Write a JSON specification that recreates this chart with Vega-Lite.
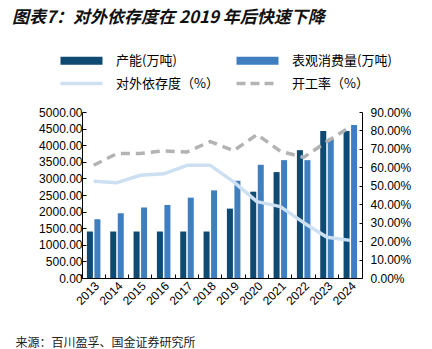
{
  "$schema": "https://vega.github.io/schema/vega-lite/v6.json",
  "width": 280,
  "height": 166,
  "autosize": {"type": "none"},
  "padding": {"left": 82, "top": 112, "right": 70, "bottom": 71},
  "background": "white",
  "title": {
    "text": "图表7：对外依存度在 2019 年后快速下降",
    "anchor": "start",
    "frame": "group",
    "font": "Noto Sans CJK SC",
    "fontSize": 17,
    "fontWeight": "bold",
    "fontStyle": "italic",
    "color": "#111111",
    "dx": -70,
    "offset": 27
  },
  "config": {
    "view": {"stroke": null},
    "axis": {
      "grid": false,
      "domainColor": "#000000",
      "tickColor": "#000000",
      "labelColor": "#000000",
      "labelFont": "Liberation Sans",
      "labelFontSize": 12
    }
  },
  "data": {
    "values": [
      {"year": "2013", "series": "产能(万吨)", "value": 1400},
      {"year": "2014", "series": "产能(万吨)", "value": 1400},
      {"year": "2015", "series": "产能(万吨)", "value": 1400},
      {"year": "2016", "series": "产能(万吨)", "value": 1400},
      {"year": "2017", "series": "产能(万吨)", "value": 1400},
      {"year": "2018", "series": "产能(万吨)", "value": 1400},
      {"year": "2019", "series": "产能(万吨)", "value": 2090},
      {"year": "2020", "series": "产能(万吨)", "value": 2600},
      {"year": "2021", "series": "产能(万吨)", "value": 3190},
      {"year": "2022", "series": "产能(万吨)", "value": 3850},
      {"year": "2023", "series": "产能(万吨)", "value": 4425},
      {"year": "2024", "series": "产能(万吨)", "value": 4425},
      {"year": "2013", "series": "表观消费量(万吨)", "value": 1770},
      {"year": "2014", "series": "表观消费量(万吨)", "value": 1950},
      {"year": "2015", "series": "表观消费量(万吨)", "value": 2120},
      {"year": "2016", "series": "表观消费量(万吨)", "value": 2200},
      {"year": "2017", "series": "表观消费量(万吨)", "value": 2420},
      {"year": "2018", "series": "表观消费量(万吨)", "value": 2640},
      {"year": "2019", "series": "表观消费量(万吨)", "value": 2930},
      {"year": "2020", "series": "表观消费量(万吨)", "value": 3410},
      {"year": "2021", "series": "表观消费量(万吨)", "value": 3550},
      {"year": "2022", "series": "表观消费量(万吨)", "value": 3550},
      {"year": "2023", "series": "表观消费量(万吨)", "value": 4200},
      {"year": "2024", "series": "表观消费量(万吨)", "value": 4610},
      {"year": "2013", "series": "对外依存度（%）", "value": 0.524},
      {"year": "2014", "series": "对外依存度（%）", "value": 0.517},
      {"year": "2015", "series": "对外依存度（%）", "value": 0.557},
      {"year": "2016", "series": "对外依存度（%）", "value": 0.565},
      {"year": "2017", "series": "对外依存度（%）", "value": 0.611},
      {"year": "2018", "series": "对外依存度（%）", "value": 0.611},
      {"year": "2019", "series": "对外依存度（%）", "value": 0.521},
      {"year": "2020", "series": "对外依存度（%）", "value": 0.414},
      {"year": "2021", "series": "对外依存度（%）", "value": 0.387},
      {"year": "2022", "series": "对外依存度（%）", "value": 0.300},
      {"year": "2023", "series": "对外依存度（%）", "value": 0.221},
      {"year": "2024", "series": "对外依存度（%）", "value": 0.204},
      {"year": "2013", "series": "开工率（%）", "value": 0.611},
      {"year": "2014", "series": "开工率（%）", "value": 0.675},
      {"year": "2015", "series": "开工率（%）", "value": 0.675},
      {"year": "2016", "series": "开工率（%）", "value": 0.689},
      {"year": "2017", "series": "开工率（%）", "value": 0.683},
      {"year": "2018", "series": "开工率（%）", "value": 0.740},
      {"year": "2019", "series": "开工率（%）", "value": 0.690},
      {"year": "2020", "series": "开工率（%）", "value": 0.778},
      {"year": "2021", "series": "开工率（%）", "value": 0.687},
      {"year": "2022", "series": "开工率（%）", "value": 0.654},
      {"year": "2023", "series": "开工率（%）", "value": 0.740},
      {"year": "2024", "series": "开工率（%）", "value": 0.819}
    ]
  },
  "encoding": {
    "x": {
      "field": "year",
      "type": "ordinal",
      "scale": {"paddingInner": 0.42, "paddingOuter": 0.21},
      "axis": {
        "title": "来源：百川盈孚、国金证券研究所",
        "titleFont": "Noto Sans CJK SC",
        "titleFontSize": 12,
        "titleFontWeight": "normal",
        "titleColor": "#222222",
        "titleAlign": "left",
        "titleAnchor": "start",
        "titleBaseline": "alphabetic",
        "titleX": -67,
        "titleY": 68,
        "labelAngle": -45,
        "bandPosition": -0.363,
        "labelOffset": 0,
        "tickSize": -4,
        "labelPadding": 6
      }
    }
  },
  "layer": [
    {
      "transform": [{"filter": {"field": "series", "oneOf": ["产能(万吨)", "表观消费量(万吨)"]}}],
      "mark": {"type": "bar"},
      "encoding": {
        "xOffset": {"field": "series", "type": "nominal", "scale": {"domain": ["产能(万吨)", "表观消费量(万吨)"], "paddingInner": 0.2}},
        "y": {
          "field": "value",
          "type": "quantitative",
          "scale": {"domain": [0, 5000], "nice": false},
          "axis": {
            "title": null,
            "values": [0, 500, 1000, 1500, 2000, 2500, 3000, 3500, 4000, 4500, 5000],
            "format": ".2f",
            "tickSize": -4,
            "labelPadding": 4
          }
        },
        "color": {
          "field": "series",
          "type": "nominal",
          "scale": {
            "domain": ["产能(万吨)", "表观消费量(万吨)", "对外依存度（%）", "开工率（%）"],
            "range": ["#0e4a72", "#3f7fc0", "#cde0f2", "#b3b3b3"]
          },
          "legend": {
            "title": null,
            "orient": "none",
            "direction": "horizontal",
            "legendX": -21,
            "legendY": -58,
            "columns": 2,
            "symbolType": "stroke",
            "symbolSize": 1764,
            "symbolStrokeWidth": 8,
            "symbolOffset": 14,
            "labelFont": "Noto Sans CJK SC",
            "labelFontSize": 13,
            "labelColor": "#000000",
            "labelOffset": 28,
            "columnPadding": 1,
            "rowPadding": -9,
            "encode": {
              "symbols": {
                "update": {
                  "stroke": {"scale": "color", "field": "value"},
                  "fill": {"value": "transparent"},
                  "strokeWidth": {"signal": "(datum.value === '产能(万吨)' || datum.value === '表观消费量(万吨)') ? 8 : 3.5"},
                  "strokeDash": {"signal": "datum.value === '开工率（%）' ? [9, 5] : [1, 0]"}
                }
              }
            }
          }
        }
      }
    },
    {
      "encoding": {
        "y": {
          "field": "value",
          "type": "quantitative",
          "scale": {"domain": [0, 0.9], "nice": false},
          "axis": {
            "orient": "right",
            "title": null,
            "values": [0, 0.1, 0.2, 0.3, 0.4, 0.5, 0.6, 0.7, 0.8, 0.9],
            "format": ".2%",
            "tickSize": -3,
            "labelPadding": 11
          }
        },
        "color": {"field": "series", "type": "nominal"}
      },
      "layer": [
        {
          "transform": [{"filter": {"field": "series", "equal": "对外依存度（%）"}}],
          "mark": {"type": "line", "strokeWidth": 3.5, "strokeJoin": "round"}
        },
        {
          "transform": [{"filter": {"field": "series", "equal": "开工率（%）"}}],
          "mark": {"type": "line", "strokeWidth": 3.5, "strokeDash": [9, 6], "strokeJoin": "round"}
        }
      ]
    }
  ],
  "resolve": {"scale": {"y": "independent"}}
}
